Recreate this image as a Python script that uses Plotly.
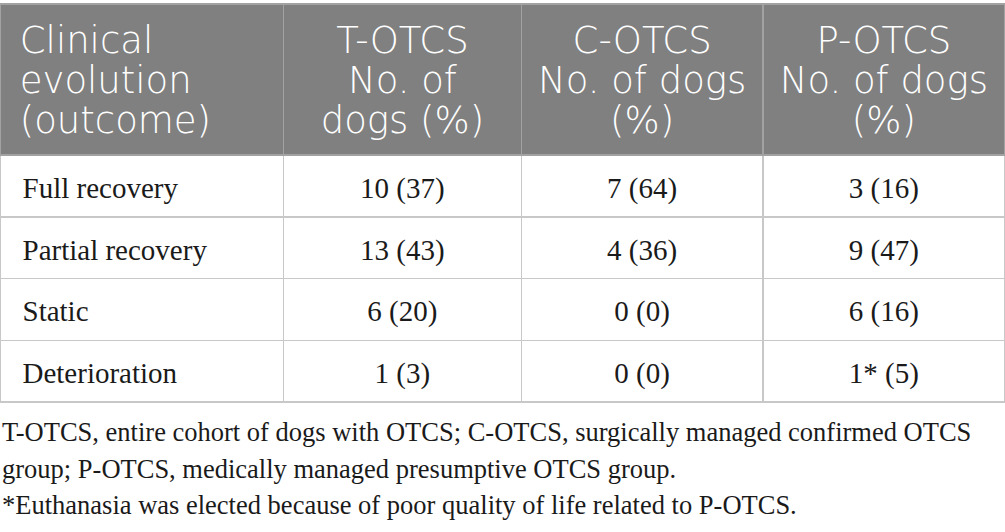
import plotly.graph_objects as go

W, H = 1005, 532

# table content
header_lines = [
    ["Clinical", "evolution", "(outcome)"],
    ["T-OTCS", "No. of", "dogs (%)"],
    ["C-OTCS", "No. of dogs", "(%)"],
    ["P-OTCS", "No. of dogs", "(%)"],
]
outcomes = ["Full recovery", "Partial recovery", "Static", "Deterioration"]
t_otcs = ["10 (37)", "13 (43)", "6 (20)", "1 (3)"]
c_otcs = ["7 (64)", "4 (36)", "0 (0)", "0 (0)"]
p_otcs = ["3 (16)", "9 (47)", "6 (16)", "1* (5)"]

footnotes = [
    "T-OTCS, entire cohort of dogs with OTCS; C-OTCS, surgically managed confirmed OTCS",
    "group; P-OTCS, medically managed presumptive OTCS group.",
    "*Euthanasia was elected because of poor quality of life related to P-OTCS.",
]

col_widths = [283, 238, 241, 242]
row_h = 61.75
aligns = ["left", "center", "center", "center"]
clear = "rgba(0,0,0,0)"
nb = "\u00a0"


def py(px):
    # pixel from top -> paper fraction
    return 1 - px / H


fig = go.Figure()

# grid: fills and rules, no text
fig.add_trace(
    go.Table(
        domain=dict(x=[0, 1], y=[py(420), py(4)]),
        columnwidth=col_widths,
        header=dict(
            values=[""] * 4,
            fill_color="#808080",
            line=dict(color="#a2a2a2", width=1.5),
            height=151,
        ),
        cells=dict(
            values=[[""] * len(outcomes)] * 4,
            fill_color="white",
            line=dict(color="#c8c8c8", width=1.5),
            height=row_h,
        ),
    )
)

# header text, one table row per line so each line centres on its own
fig.add_trace(
    go.Table(
        domain=dict(x=[0, 1], y=[py(150), py(17.5)]),
        columnwidth=col_widths,
        header=dict(
            values=[[nb + s for s in header_lines[0]]] + header_lines[1:],
            align=aligns,
            fill_color=clear,
            line=dict(color=clear, width=0),
            font=dict(family="DejaVu Sans", size=37, color="white", weight=300),
            height=40,
        ),
        cells=dict(values=[], fill_color=clear, line=dict(color=clear, width=0)),
    )
)

# body text
fig.add_trace(
    go.Table(
        domain=dict(x=[0, 1], y=[py(420), py(148)]),
        columnwidth=col_widths,
        header=dict(
            values=[""] * 4,
            fill_color=clear,
            line=dict(color=clear, width=0),
            height=20,
        ),
        cells=dict(
            values=[[nb * 2 + o for o in outcomes], t_otcs, c_otcs, p_otcs],
            align=aligns,
            fill_color=clear,
            line=dict(color=clear, width=0),
            font=dict(family="Liberation Serif", size=29, color="#1a1a1a"),
            height=row_h,
        ),
    )
)

# footnotes below the table
for i, txt in enumerate(footnotes):
    fig.add_annotation(
        text=txt,
        x=0,
        y=py(432 + 36.5 * i),
        xref="paper",
        yref="paper",
        xanchor="left",
        yanchor="middle",
        showarrow=False,
        font=dict(family="Liberation Serif", size=26.5, color="#1a1a1a"),
    )

fig.update_layout(
    width=W,
    height=H,
    margin=dict(l=0, r=0, t=0, b=0),
    paper_bgcolor="white",
    plot_bgcolor="white",
)

fig.write_html(
    "out.html",
    config={"displayModeBar": False},
    post_script="document.body.style.margin='0';",
)
